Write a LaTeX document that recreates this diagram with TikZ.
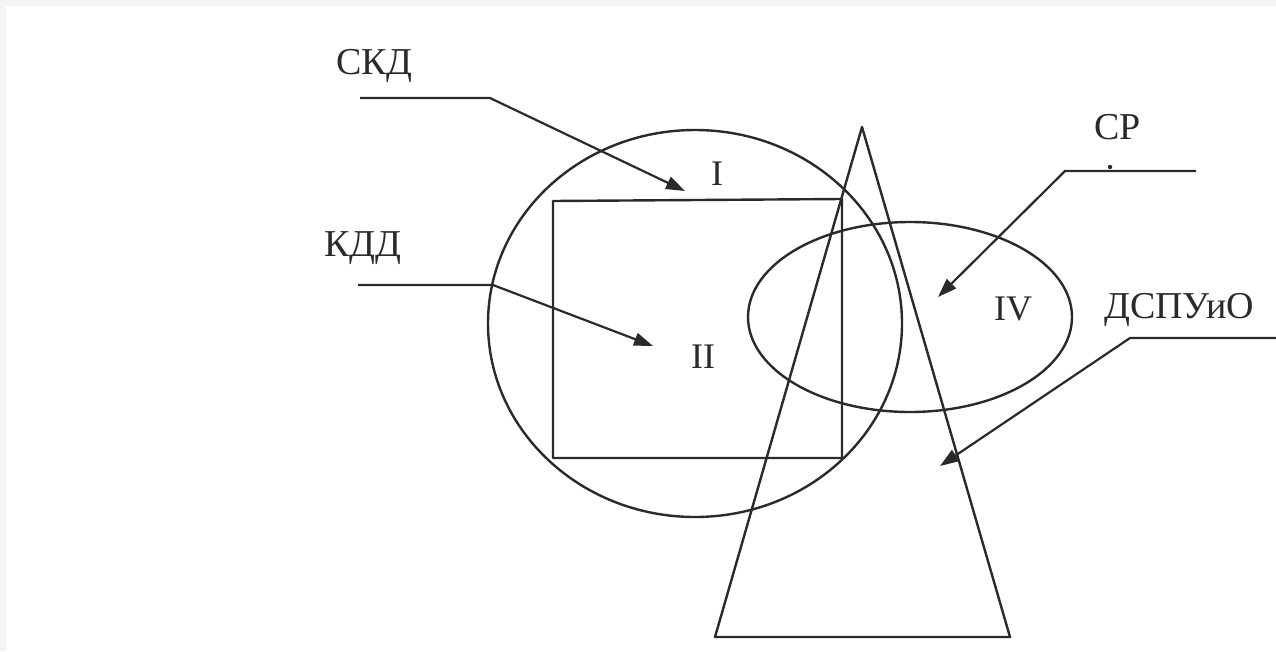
\documentclass[tikz,border=0pt]{standalone}
\usepackage{fontspec}
\setmainfont{Liberation Serif}
\usetikzlibrary{arrows.meta}
\definecolor{ink}{HTML}{2A2A2A}
\begin{document}
\begin{tikzpicture}[x=1pt,y=-1pt,
  figline/.style={draw=ink,line width=2.4pt,line join=round},
  pointer/.style={draw=ink,line width=2.2pt,-{Triangle[length=19pt,width=13pt]}},
  lbl/.style={anchor=base west,inner sep=0pt,text=ink,font=\fontsize{38}{45}\selectfont},
  num/.style={anchor=base west,inner sep=0pt,text=ink,font=\fontsize{36}{43}\selectfont}]
\useasboundingbox (0,0) rectangle (1276,651);
\fill[white] (0,0) rectangle (1276,651);
\fill[gray!9] (0,0) rectangle (1276,6);
\fill[gray!9] (0,0) rectangle (6,651);
% shapes
\draw[figline] (695,323.5) ellipse [x radius=207pt, y radius=193.5pt];
\draw[figline] (553,201) -- (842,199) -- (842,458) -- (553,458) -- cycle;
\draw[figline] (862,127) -- (1010,637) -- (715,637) -- cycle;
\draw[figline] (910,317) ellipse [x radius=162pt, y radius=95pt];
% labels
\node[lbl] (skd) at (336,74) {СКД};
\node[lbl] (kdd) at (324,256) {КДД};
\node[lbl] (sr) at (1094,139) {СР};
\node[lbl] (dspu) at (1104,318) {ДСПУиО};
\node[num] (r1) at (711,185) {I};
\node[num] (r2) at (691,368) {II};
\node[num] (r4) at (994,320) {IV};
% pointer lines
\coordinate (skdA) at (360,98);
\coordinate (skdB) at (490,98);
\coordinate (skdT) at (685,191);
\draw[pointer] (skdA) -- (skdB) -- (skdT);
\coordinate (kddA) at (358,285);
\coordinate (kddB) at (493,285);
\coordinate (kddT) at (653,346);
\draw[pointer] (kddA) -- (kddB) -- (kddT);
\coordinate (srA) at (1196,171);
\coordinate (srB) at (1065,171);
\coordinate (srT) at (938,297);
\draw[pointer] (srA) -- (srB) -- (srT);
\coordinate (dsA) at (1276,338);
\coordinate (dsB) at (1130,338);
\coordinate (dsT) at (940,466);
\draw[pointer] (dsA) -- (dsB) -- (dsT);
\fill[ink] (1110,167) circle (2.2pt);
\end{tikzpicture}
\end{document}
